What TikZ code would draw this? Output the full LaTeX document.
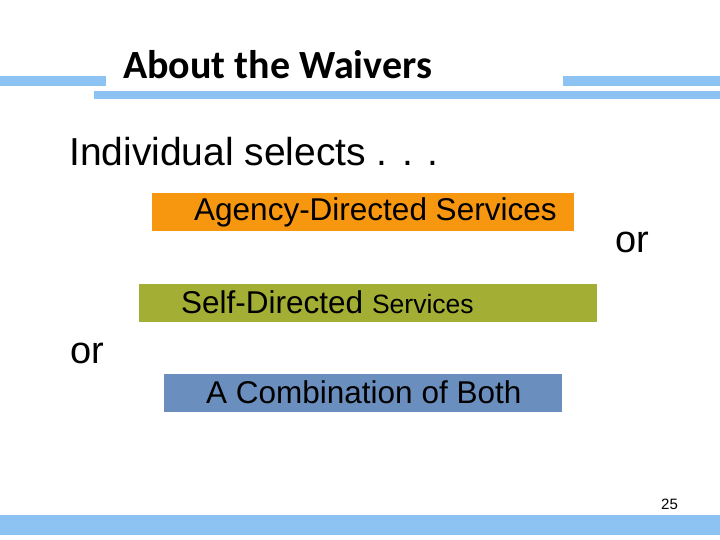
\documentclass[tikz,border=0pt]{standalone}
\usepackage{fontspec}
\setmainfont{Liberation Sans}
\newfontfamily\titlefont{Carlito}
\definecolor{barblue}{HTML}{8DC3F2}
\definecolor{orangebox}{HTML}{F7960F}
\definecolor{greenbox}{HTML}{A2AE34}
\definecolor{bluebox}{HTML}{6A8FBE}
\tikzset{px/.style={x=1pt,y=-1pt},
 bar/.style={fill=barblue,draw=none},
 choice/.style={draw=none,anchor=north west,minimum height=38pt,inner sep=0pt},
 lbl/.style={anchor=west,inner sep=0pt,font=\fontsize{31.5}{33}\selectfont},
 ortext/.style={anchor=west,inner sep=0pt,font=\fontsize{38}{40}\selectfont}}
\begin{document}
\begin{tikzpicture}[px]
\useasboundingbox (0,0) rectangle (720,540);
\fill[bar] (0,76) rectangle (106,86);
\fill[bar] (563,76) rectangle (720,86);
\fill[bar] (94,91) rectangle (720,99);
\fill[bar] (0,515) rectangle (720,535);
\node[anchor=west,inner sep=0pt,font=\titlefont\bfseries\fontsize{40}{42}\selectfont] (title) at (123,65) {About the Waivers};
\node[anchor=west,inner sep=0pt,font=\fontsize{39}{42}\selectfont] (ind) at (69,152) {Individual selects . . .};
\node[choice,fill=orangebox,minimum width=422pt] (a) at (152,193) {};
\node[lbl] (at) at (194,212) {Agency-Directed Services};
\node[ortext] (or1) at (615,242) {or};
\node[choice,fill=greenbox,minimum width=458pt] (b) at (139,284) {};
\node[lbl] (bt) at (181,302) {Self-Directed {\fontsize{26.5}{28}\selectfont Services}};
\node[ortext] (or2) at (70,353) {or};
\node[choice,fill=bluebox,minimum width=398pt] (c) at (164,374) {};
\node[lbl] (ct) at (206,392) {A Combination of Both};
\node[anchor=west,inner sep=0pt,font=\fontsize{15}{16}\selectfont] (pg) at (661,504) {25};
\end{tikzpicture}
\end{document}
